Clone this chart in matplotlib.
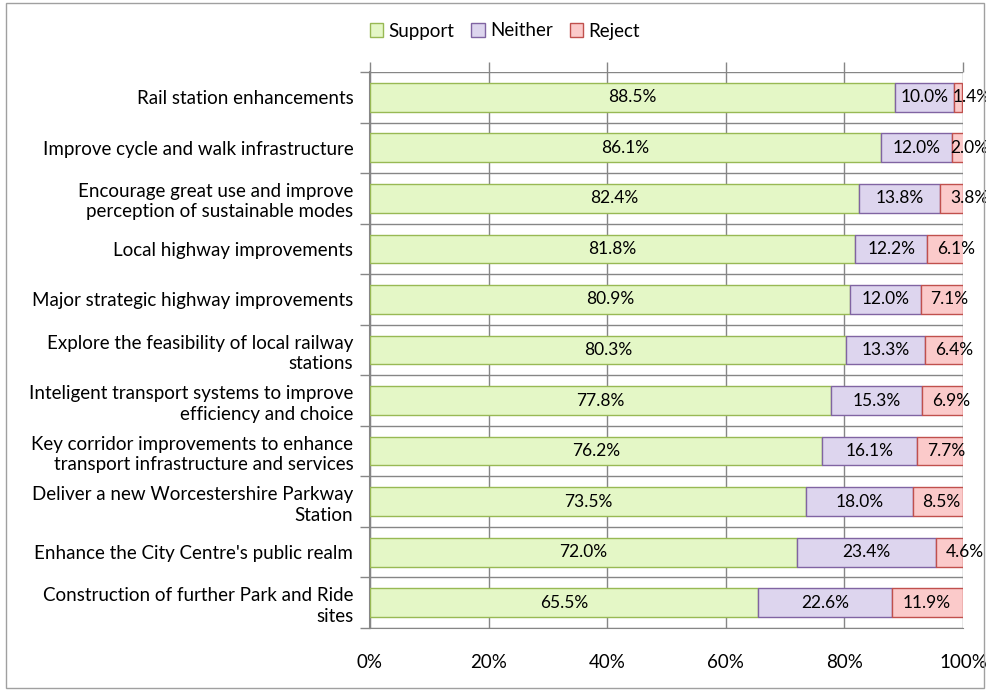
import matplotlib.pyplot as plt
from matplotlib.patches import Rectangle
from matplotlib.ticker import PercentFormatter

plt.rcParams['font.family'] = ['Lato', 'DejaVu Sans']

# survey response data
categories = [
    'Rail station enhancements',
    'Improve cycle and walk infrastructure',
    'Encourage great use and improve\nperception of sustainable modes',
    'Local highway improvements',
    'Major strategic highway improvements',
    'Explore the feasibility of local railway\nstations',
    'Inteligent transport systems to improve\nefficiency and choice',
    'Key corridor improvements to enhance\ntransport infrastructure and services',
    'Deliver a new Worcestershire Parkway\nStation',
    "Enhance the City Centre's public realm",
    'Construction of further Park and Ride\nsites',
]
support = [88.5, 86.1, 82.4, 81.8, 80.9, 80.3, 77.8, 76.2, 73.5, 72.0, 65.5]
neither = [10.0, 12.0, 13.8, 12.2, 12.0, 13.3, 15.3, 16.1, 18.0, 23.4, 22.6]
reject = [1.4, 2.0, 3.8, 6.1, 7.1, 6.4, 6.9, 7.7, 8.5, 4.6, 11.9]

series = [
    ('Support', support, '#e4f7c6', '#98b954'),
    ('Neither', neither, '#ddd5ee', '#8064a2'),
    ('Reject', reject, '#fbcaca', '#c0504d'),
]

fig = plt.figure(figsize=(9.87, 6.9), dpi=100)
ax = fig.add_axes([370/987, 1-628/690, 593/987, 556/690])

fig.patches.append(Rectangle((6/987, 2/690), 978/987, 685/690, transform=fig.transFigure,
                             fill=False, edgecolor='#a0a0a0', linewidth=1.0))

ypos = list(range(len(categories)))
left = [0.0]*len(categories)
for name, vals, fc, ec in series:
    ax.barh(ypos, vals, left=left, height=0.57, color=fc, edgecolor=ec,
            linewidth=1.0, label=name, zorder=3)
    for y, l, v in zip(ypos, left, vals):
        if name == 'Reject':
            # excel pushes the last labels to the segment's left edge
            off = 7 if v >= 3 else -1
            ax.annotate(f'{v:.1f}%', (l, y), xytext=(off, 0), textcoords='offset points',
                        ha='left', va='center', fontsize=12.5, color='#000000', zorder=4,
                        annotation_clip=False)
        else:
            ax.text(l + v/2, y, f'{v:.1f}%', ha='center', va='center', fontsize=12.5,
                    color='#000000', zorder=4)
    left = [a + b for a, b in zip(left, vals)]

ax.set_ylim(len(categories)-0.5, -0.5)
ax.set_xlim(0, 100)
ax.set_yticks(ypos)
ax.set_yticklabels(categories, fontsize=13.5, linespacing=1.25)
ax.set_yticks([i - 0.5 for i in range(len(categories)+1)], minor=True)
ax.tick_params(axis='y', which='major', length=0, pad=12)
ax.tick_params(axis='y', which='minor', length=7, width=1, color='#868686', direction='out')

ax.set_xticks([0, 20, 40, 60, 80, 100])
ax.xaxis.set_major_formatter(PercentFormatter(decimals=0))
ax.tick_params(axis='x', length=7, width=1, color='#868686', top=True, bottom=False,
               labeltop=False, labelbottom=True, labelsize=13.5, pad=12)

ax.grid(True, axis='x', color='#868686', linewidth=1.0, zorder=0)
ax.grid(True, axis='y', which='minor', color='#868686', linewidth=1.0, zorder=0)
for s in ['top', 'right']:
    ax.spines[s].set_visible(False)
ax.spines['left'].set_color('#868686')
ax.spines['bottom'].set_color('#868686')
ax.spines['left'].set_linewidth(1.5)

leg = fig.legend(loc='center', bbox_to_anchor=(505/987, 1-31/690), ncol=3, frameon=False,
                 fontsize=13.5, handlelength=0.7, handleheight=0.7, handletextpad=0.3,
                 columnspacing=0.9)

fig.savefig('out.png', dpi=100)
